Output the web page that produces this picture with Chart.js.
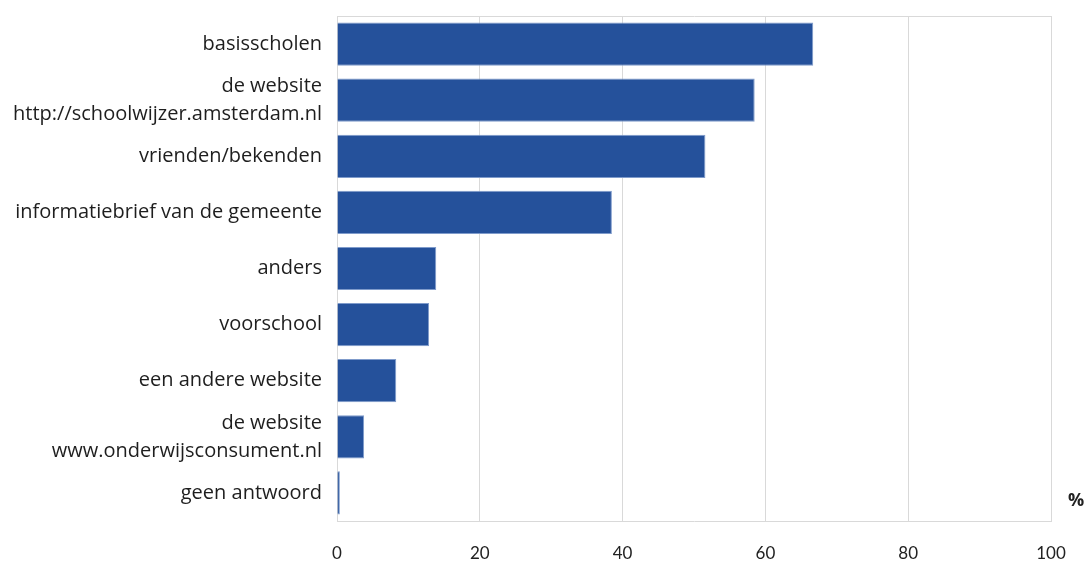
<!DOCTYPE html>
<html>
<head>
<meta charset="utf-8">
<script src="https://cdn.jsdelivr.net/npm/chart.js@4/dist/chart.umd.min.js"></script>
<style>
html,body{margin:0;padding:0;background:#fff;}
#wrap{width:1088px;height:561px;position:relative;}
</style>
</head>
<body>
<div id="wrap"><canvas id="c" width="1088" height="561"></canvas></div>
<script>
const categories = [
  "basisscholen",
  ["de website", "http://schoolwijzer.amsterdam.nl"],
  "vrienden/bekenden",
  "informatiebrief van de gemeente",
  "anders",
  "voorschool",
  "een andere website",
  ["de website", "www.onderwijsconsument.nl"],
  "geen antwoord"
];
const values = [66.7, 58.5, 51.6, 38.5, 13.9, 12.9, 8.3, 3.8, 0.4];
const xTicks = [0, 20, 40, 60, 80, 100];
const unitLabel = "%";

const unitPlugin = {
  id: 'unit',
  afterDraw(chart) {
    const ctx = chart.ctx;
    ctx.save();
    ctx.font = 'bold 18px "Open Sans", sans-serif';
    ctx.fillStyle = '#222';
    ctx.textAlign = 'center';
    ctx.textBaseline = 'middle';
    ctx.fillText(unitLabel, chart.chartArea.right + 25, chart.chartArea.bottom - 20);
    ctx.restore();
  }
};

new Chart(document.getElementById('c'), {
  type: 'bar',
  data: {
    labels: categories,
    datasets: [{
      data: values,
      backgroundColor: '#25519B',
      borderColor: '#7F9BCB',
      borderWidth: 1,
      barPercentage: 0.77,
      categoryPercentage: 1.0
    }]
  },
  options: {
    indexAxis: 'y',
    responsive: false,
    animation: false,
    devicePixelRatio: 1,
    layout: { padding: { top: 0, right: 37, bottom: 0, left: 0 } },
    plugins: { legend: { display: false }, tooltip: { enabled: false } },
    scales: {
      x: {
        min: 0, max: 100,
        afterBuildTicks(axis) { axis.ticks = xTicks.map(v => ({ value: v })); },
        afterFit(axis) { axis.height = 40; },
        grid: { color: '#D9D9D9', lineWidth: 1, drawTicks: false },
        border: { display: true, color: '#D9D9D9' },
        ticks: { color: '#222', font: { family: '"Lato", sans-serif', size: 17 }, padding: 22 }
      },
      xTop: {
        position: 'top', axis: 'x', min: 0, max: 100,
        afterFit(axis) { axis.height = 16; },
        grid: { display: false, drawTicks: false },
        border: { display: true, color: '#D9D9D9' },
        ticks: { display: false }
      },
      y: {
        afterFit(axis) { axis.width = 337; axis.paddingTop = 0; axis.paddingBottom = 0; },
        grid: { display: false, drawTicks: false },
        border: { display: true, color: '#D9D9D9' },
        ticks: { autoSkip: false, color: '#1e1e1e', font: { family: '"Open Sans", sans-serif', size: 20, lineHeight: 1.4 }, padding: 15 }
      },
      y2: {
        position: 'right', display: true,
        afterFit(axis) { axis.width = 0; axis.paddingTop = 0; axis.paddingBottom = 0; },
        grid: { display: false, drawTicks: false },
        border: { display: true, color: '#D9D9D9' },
        ticks: { display: false }
      }
    }
  },
  plugins: [unitPlugin]
});
</script>
</body>
</html>
